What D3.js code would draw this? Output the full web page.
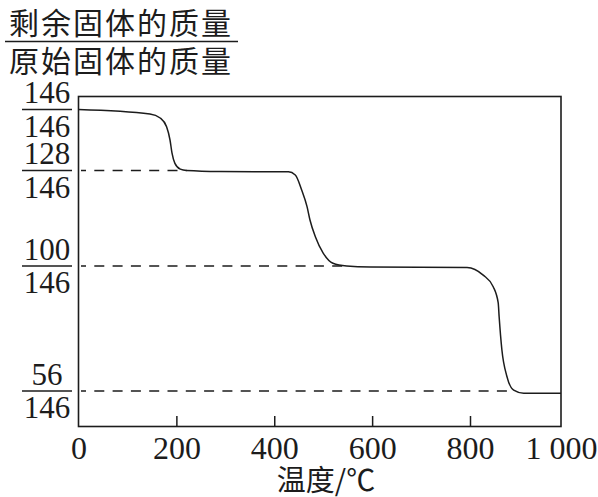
<html>
    <head>
        <meta charset="utf-8">
        <style>
            body { margin: 0; background: #fff; }
            svg { display: block; }
        </style>
        <script src="https://cdnjs.cloudflare.com/ajax/libs/d3/7.8.5/d3.min.js"></script>
    </head>
    <body>
        <script>
            // temperature (°C) and remaining mass (in units of x/146)
            const temps  = [0, 146, 167, 180, 187, 191, 197, 208, 221, 289, 429, 443, 456, 467, 473, 484, 500, 520, 548, 596, 794, 829, 851, 862, 864, 870, 881, 896, 918, 1000];
            const masses = [146, 144.7, 143.5, 140.9, 137.0, 133.2, 130.1, 128.4, 128.0, 127.7, 127.6, 126.7, 122.3, 117.4, 113.5, 108.6, 103.8, 100.8, 100.0, 99.65, 99.5, 96.8, 92.7, 87.0, 82.2, 70.6, 61.2, 56.3, 55.2, 55.2];

            const xTicks = [0, 200, 400, 600, 800, 1000];
            const xTickLabels = ['0', '200', '400', '600', '800', '1 000'];
            const yTicks = [146, 128, 100, 56];
            const yDenominator = 146;
            // dashed guide lines: level and where the curve reaches it
            const guideLevels = [128, 100, 56];
            const guideEnds = [221, 548, 896];

            const width = 598;
            const height = 497;
            const plot = { left: 78.5, right: 561, top: 96.5, bottom: 426.5 };
            const ink = '#1c1c1c';
            const serif = '"Liberation Serif", "DejaVu Serif", serif';
            const cjk = '"Noto Sans CJK SC", "Noto Sans CJK JP", sans-serif';

            // the original drawing is not quite linear, so piecewise scales
            const x = d3.scaleLinear().domain([0, 800, 1000]).range([plot.left, 470, plot.right]);
            const y = d3.scaleLinear().domain([56, 100, 128, 146]).range([391, 266, 170.5, 109.5]);

            const svg = d3.select('body').append('svg')
                .attr('width', width)
                .attr('height', height);

            // y title as a fraction
            const title = svg.append('g')
                .attr('font-family', cjk)
                .attr('font-size', 30)
                .attr('fill', ink)
                .attr('text-anchor', 'middle');
            title.append('text').attr('x', 121).attr('y', 34).attr('letter-spacing', 2).text('剩余固体的质量');
            title.append('line').attr('x1', 5).attr('x2', 238).attr('y1', 41.5).attr('y2', 41.5)
                .attr('stroke', ink).attr('stroke-width', 1.6);
            title.append('text').attr('x', 121).attr('y', 72).attr('letter-spacing', 2).text('原始固体的质量');

            // frame
            svg.append('rect')
                .attr('x', plot.left)
                .attr('y', plot.top)
                .attr('width', plot.right - plot.left)
                .attr('height', plot.bottom - plot.top)
                .attr('fill', 'none')
                .attr('stroke', ink)
                .attr('stroke-width', 1.6);

            // x axis: inner ticks + labels
            const xAxis = d3.axisBottom(x)
                .tickValues(xTicks)
                .tickSize(0)
                .tickPadding(10)
                .tickFormat((d, i) => xTickLabels[i]);
            const gx = svg.append('g')
                .attr('transform', `translate(0, ${plot.bottom})`)
                .call(xAxis);
            gx.select('.domain').remove();
            gx.selectAll('text')
                .attr('font-family', serif)
                .attr('font-size', 32)
                .attr('fill', ink)
                .attr('dy', '0.71em');
            gx.selectAll('.tick')
                .filter(d => d > 0 && d < 1000)
                .append('line')
                .attr('y1', 0)
                .attr('y2', -10.5)
                .attr('stroke', ink)
                .attr('stroke-width', 1.5);

            svg.append('text')
                .attr('x', 326)
                .attr('y', 491)
                .attr('text-anchor', 'middle')
                .attr('font-family', cjk)
                .attr('font-size', 29)
                .attr('fill', ink)
                .text('温度/℃');

            // y labels as fractions
            const yl = svg.append('g').selectAll('g')
                .data(yTicks)
                .enter().append('g')
                .attr('transform', d => `translate(47, ${y(d)})`)
                .attr('font-family', serif)
                .attr('font-size', 31)
                .attr('fill', ink)
                .attr('text-anchor', 'middle');
            yl.append('text').attr('y', -6.5).text(d => d);
            yl.append('line').attr('x1', -25).attr('x2', 25)
                .attr('stroke', ink).attr('stroke-width', 1.4);
            yl.append('text').attr('y', 27).text(yDenominator);

            // dashed guides
            svg.append('g').selectAll('line')
                .data(guideLevels)
                .enter().append('line')
                .attr('x1', 81)
                .attr('x2', (d, i) => x(guideEnds[i]))
                .attr('y1', d => y(d))
                .attr('y2', d => y(d))
                .attr('stroke', ink)
                .attr('stroke-width', 1.3)
                .attr('stroke-dasharray', '10,8.3')
                .attr('stroke-dashoffset', 5);

            // mass curve
            const line = d3.line()
                .x(d => x(d[0]))
                .y(d => y(d[1]))
                .curve(d3.curveMonotoneX);
            svg.append('path')
                .datum(temps.map((t, i) => [t, masses[i]]))
                .attr('d', line)
                .attr('fill', 'none')
                .attr('stroke', ink)
                .attr('stroke-width', 1.5);
        </script>
    </body>
</html>
